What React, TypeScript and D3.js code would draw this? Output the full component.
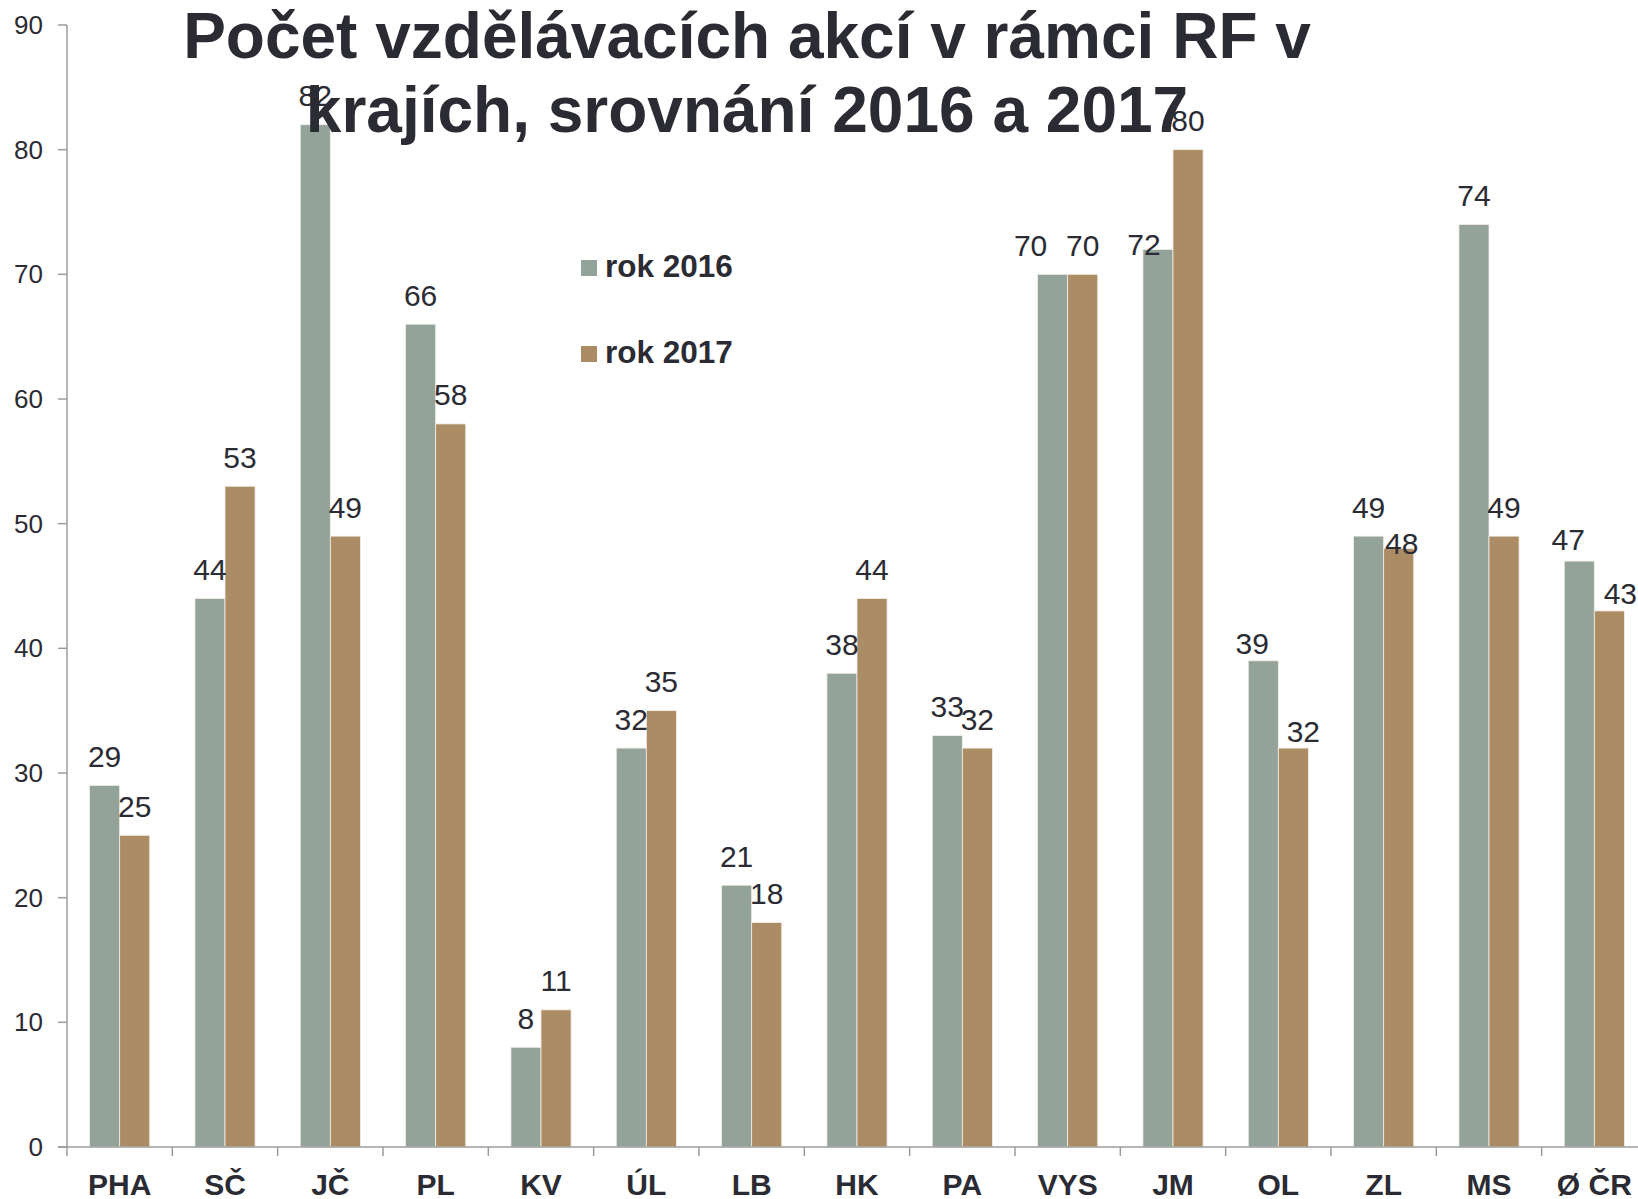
import React from 'react';
import * as d3 from 'd3';

const categories = ['PHA', 'SČ', 'JČ', 'PL', 'KV', 'ÚL', 'LB', 'HK', 'PA', 'VYS', 'JM', 'OL', 'ZL', 'MS', 'Ø ČR'];
const series2016 = [29, 44, 82, 66, 8, 32, 21, 38, 33, 70, 72, 39, 49, 74, 47];
const series2017 = [25, 53, 49, 58, 11, 35, 18, 44, 32, 70, 80, 32, 48, 49, 43];
const seriesNames = ['rok 2016', 'rok 2017'];
const yTicks = [0, 10, 20, 30, 40, 50, 60, 70, 80, 90];

const colors = ['#93a399', '#ab8c64'];
const textColor = '#2b2b34';
const axisColor = '#9c9c9c';

// labels that were nudged by hand in the original (series-category: [dx, dy])
const labelNudge: Record<string, [number, number]> = {
  '0-9': [-22, 0],
  '0-10': [-14, 24],
  '0-11': [-11, 12],
  '1-11': [10, 12],
  '1-12': [3, 24],
  '0-14': [-11, 7],
  '1-14': [11, 12],
};

const W = 1638;
const H = 1199;

export default function App() {
  const x = d3.scaleBand<string>().domain(categories).range([67, 1647]).padding(0);
  const bw = x.bandwidth();
  const inner = d3
    .scaleBand<number>()
    .domain([0, 1])
    .range([bw * 0.2145, bw * 0.7855])
    .padding(0);
  const y = d3.scaleLinear().domain([0, 90]).range([1147, 25]);

  const all = [series2016, series2017];

  return (
    <svg
      width={W}
      height={H}
      style={{position: 'absolute', left: 0, top: 0, background: '#fff'}}
      fontFamily="'Liberation Sans', Arial, sans-serif"
    >
      {/* bars */}
      {all.map((vals, s) =>
        vals.map((v, i) => (
          <rect
            key={`b${s}-${i}`}
            x={x(categories[i])! + inner(s)!}
            y={y(v)}
            width={inner.bandwidth()}
            height={y(0) - y(v)}
            fill={colors[s]}
            stroke="#f2efe6"
            strokeWidth={0.8}
          />
        ))
      )}

      {/* y axis */}
      <line x1={67} x2={67} y1={y(90)} y2={y(0)} stroke={axisColor} strokeWidth={1.5} />
      {yTicks.map(t => (
        <g key={`yt${t}`}>
          <line x1={58} x2={67} y1={y(t)} y2={y(t)} stroke={axisColor} strokeWidth={1.5} />
          <text
            x={43}
            y={y(t)}
            dy="0.35em"
            textAnchor="end"
            fontSize={26}
            fill={textColor}
          >
            {t}
          </text>
        </g>
      ))}

      {/* x axis */}
      <line x1={58} x2={W} y1={y(0)} y2={y(0)} stroke={axisColor} strokeWidth={1.5} />
      {categories.map(c => (
        <g key={`xt${c}`}>
          <line
            x1={x(c)!}
            x2={x(c)!}
            y1={y(0)}
            y2={y(0) + 9}
            stroke={axisColor}
            strokeWidth={1.5}
          />
          <text
            x={x(c)! + bw / 2}
            y={1195}
            textAnchor="middle"
            fontSize={30}
            fontWeight="bold"
            fill={textColor}
          >
            {c}
          </text>
        </g>
      ))}

      {/* title */}
      <text textAnchor="middle" fontSize={64} fontWeight="bold" fill={textColor}>
        <tspan x={747} y={58}>Počet vzdělávacích akcí v rámci RF v</tspan>
        <tspan x={747} y={132}>krajích, srovnání 2016 a 2017</tspan>
      </text>

      {/* data labels */}
      {all.map((vals, s) =>
        vals.map((v, i) => {
          const n = labelNudge[`${s}-${i}`] || [0, 0];
          return (
            <text
              key={`l${s}-${i}`}
              x={x(categories[i])! + inner(s)! + inner.bandwidth() / 2 + n[0]}
              y={y(v) - 18.5 + n[1]}
              textAnchor="middle"
              fontSize={30}
              fill={textColor}
            >
              {v}
            </text>
          );
        })
      )}

      {/* legend */}
      {seriesNames.map((name, s) => (
        <g key={`lg${s}`} transform={`translate(581, ${260 + s * 86})`}>
          <rect width={16} height={16} fill={colors[s]} />
          <text x={24} y={16.5} fontSize={31.5} fontWeight="bold" fill={textColor}>
            {name}
          </text>
        </g>
      ))}
    </svg>
  );
}
